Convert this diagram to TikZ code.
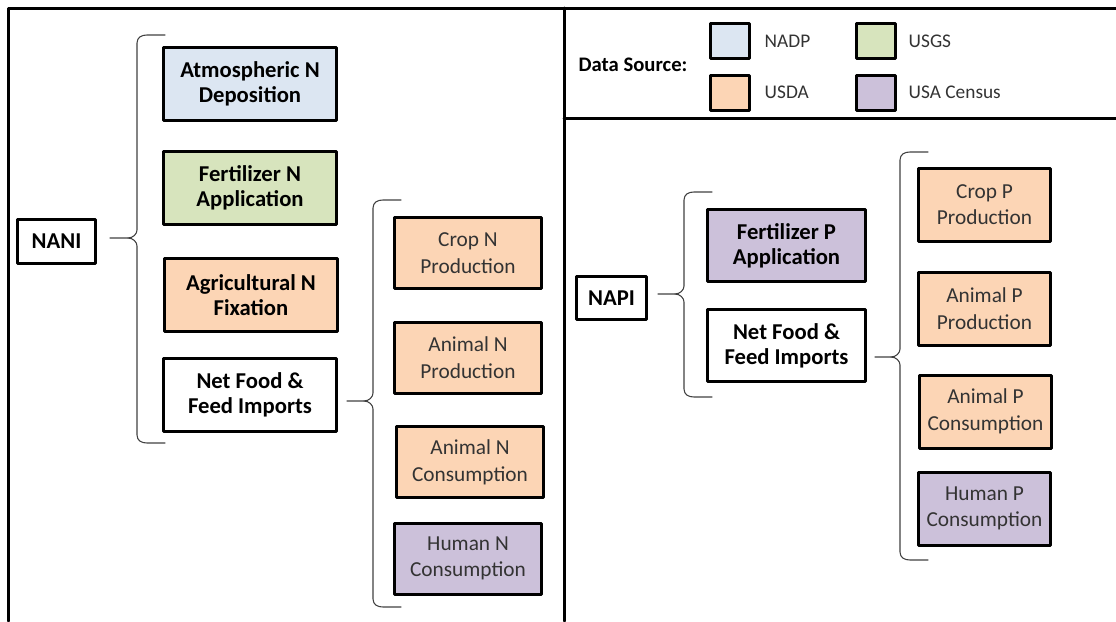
\documentclass[tikz,border=0pt]{standalone}
\usepackage{fontspec}
\setmainfont{Carlito}
\usetikzlibrary{calc}

\definecolor{nadpblue}{RGB}{220,230,242}
\definecolor{usgsgreen}{RGB}{215,228,189}
\definecolor{usdaorange}{RGB}{252,213,181}
\definecolor{censuspurple}{RGB}{204,193,218}

% #1 tip start, #2 tip length, #3 upper straight part, #4 lower straight part
\newcommand{\curly}[4]{%
\draw[brc] #1 -- ++(#2,0) .. controls +(5,0) and +(0,4) .. ++(9,-8) -- ++(0,-#3) .. controls +(0,-6) and +(-5,0) .. ++(10,-8) -- ++(18,0);
\draw[brc] #1 ++(#2,0) .. controls +(5,0) and +(0,-4) .. ++(9,8) -- ++(0,#4) .. controls +(0,6) and +(-5,0) .. ++(10,8) -- ++(18,0);
}

\begin{document}
\begin{tikzpicture}[x=0.75pt, y=-0.75pt, line cap=round, line join=round,
  frame/.style={line width=2.25pt},
  brc/.style={line width=0.8pt, black!75},
  box/.style={draw, line width=2.25pt, align=center, inner sep=1pt, text=black!80, font=\fontsize{16}{20}\selectfont},
  hbox/.style={box, text=black, font=\bfseries\fontsize{17}{19}\selectfont},
  topbox/.style={hbox, minimum width=58.5pt, minimum height=33pt},
  leftbox/.style={hbox, minimum width=129.75pt, minimum height=54.75pt},
  nbox/.style={box, minimum width=110.25pt, minimum height=53.25pt},
  pleft/.style={hbox, minimum width=118.5pt, minimum height=54pt},
  pbox/.style={box, minimum width=99pt, minimum height=54.75pt},
  key/.style={draw, line width=2.25pt, minimum width=29.25pt, minimum height=26.25pt},
  keytext/.style={anchor=west, text=black!80, font=\fontsize{14.5}{17}\selectfont}]

\useasboundingbox (0,0) rectangle (1116,621);

% frame
\draw[frame] (8,621) -- (8,8) -- (1116,8);
\draw[frame] (564,8) -- (564,621);
\draw[frame] (564,118) -- (1116,118);

% legend
\node[font=\bfseries\fontsize{15.5}{17}\selectfont] (src) at (633,65) {Data Source:};
\node[key, fill=nadpblue] (knadp) at (730,41) {};
\node[key, fill=usdaorange] (kusda) at (730,92.5) {};
\node[key, fill=usgsgreen] (kusgs) at (876,41) {};
\node[key, fill=censuspurple] (kcensus) at (876,92.5) {};
\node[keytext] (tnadp) at (760,41) {NADP};
\node[keytext] (tusda) at (760,92.5) {USDA};
\node[keytext] (tusgs) at (904,41) {USGS};
\node[keytext] (tcensus) at (904,92.5) {USA Census};

% NANI
\node[topbox] (nani) at (56.5,241.5) {NANI};
\node[leftbox, fill=nadpblue] (atmN) at (250,83.5) {Atmospheric N\\Deposition};
\node[leftbox, fill=usgsgreen] (fertN) at (250,187.5) {Fertilizer N\\Application};
\node[leftbox, fill=usdaorange] (agriN) at (251,295) {Agricultural N\\Fixation};
\node[leftbox] (netN) at (250,395) {Net Food \&\\Feed Imports};

\node[nbox, fill=usdaorange] (cropN) at (468,253) {Crop N\\Production};
\node[nbox, fill=usdaorange] (animN) at (468,357.5) {Animal N\\Production};
\node[nbox, fill=usdaorange] (aconsN) at (470,462) {Animal N\\Consumption};
\node[nbox, fill=censuspurple] (humN) at (468,558.5) {Human N\\Consumption};

\curly{($(nani.east)+(13,-3.5)$)}{18}{187}{189}
\curly{($(netN.east)+(9,6)$)}{17}{185}{190}

% NAPI
\node[topbox, minimum width=52.5pt, minimum height=32.25pt] (napi) at (611.5,298) {NAPI};
\node[pleft, fill=censuspurple] (fertP) at (786.5,245.5) {Fertilizer P\\Application};
\node[pleft] (netP) at (786.5,345.5) {Net Food \&\\Feed Imports};

\node[pbox, fill=usdaorange] (cropP) at (984.5,204.5) {Crop P\\Production};
\node[pbox, fill=usdaorange] (animP) at (984.5,308.5) {Animal P\\Production};
\node[pbox, fill=usdaorange] (aconsP) at (985.5,411.5) {Animal P\\Consumption};
\node[pbox, fill=censuspurple] (humP) at (984.5,508.5) {Human P\\Consumption};

\curly{($(napi.east)+(10,-4)$)}{17}{86}{87}
\curly{($(netP.east)+(8,11.5)$)}{16}{189}{187}

\end{tikzpicture}
\end{document}
